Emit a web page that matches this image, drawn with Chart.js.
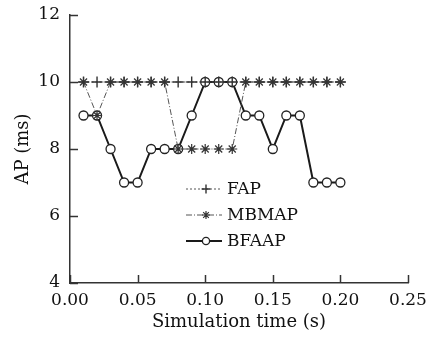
<!DOCTYPE html>
<html><head><meta charset="utf-8">
<script src="https://cdn.jsdelivr.net/npm/chart.js@4/dist/chart.umd.min.js"></script>
<style>html,body{margin:0;padding:0;background:#fff}#wrap{width:433px;height:337px}</style>
</head><body><div id="wrap"><canvas id="c" width="433" height="337"></canvas></div>
<script>
const times = [0.01,0.02,0.03,0.04,0.05,0.06,0.07,0.08,0.09,0.10,0.11,0.12,0.13,0.14,0.15,0.16,0.17,0.18,0.19,0.20];
const fap   = [10,10,10,10,10,10,10,10,10,10,10,10,10,10,10,10,10,10,10,10];
const mbmap = [10,9,10,10,10,10,10,8,8,8,8,8,10,10,10,10,10,10,10,10];
const bfaap = [9,9,8,7,7,8,8,8,9,10,10,10,9,9,8,9,9,7,7,7];
const xTicks = [0,0.05,0.10,0.15,0.20,0.25];
const yTicks = [4,6,8,10,12];
const seriesNames = ['FAP','MBMAP','BFAAP'];

const FONT = 'DejaVu Serif';
const TXT = '#111';
const toXY = arr => arr.map((v,i)=>({x:times[i],y:v}));

const inwardTicks = {
  id:'inwardTicks',
  afterDraw(chart){
    const ctx = chart.ctx, xs = chart.scales.x, ys = chart.scales.y, a = chart.chartArea;
    ctx.save();
    ctx.strokeStyle = '#333'; ctx.lineWidth = 1.5;
    xTicks.forEach(t=>{const px = Math.round(xs.getPixelForValue(t))+0.5; ctx.beginPath(); ctx.moveTo(px,a.bottom); ctx.lineTo(px,a.bottom-8); ctx.stroke();});
    yTicks.forEach(t=>{const py = Math.round(ys.getPixelForValue(t))+0.5; ctx.beginPath(); ctx.moveTo(a.left,py); ctx.lineTo(a.left+8,py); ctx.stroke();});
    ctx.restore();
  }
};

const insideLegend = {
  id:'insideLegend',
  afterDatasetsDraw(chart){
    const ctx = chart.ctx, a = chart.chartArea;
    const x0 = a.left + 116, y0 = a.top + 174, gap = 26, len = 36;
    chart.data.datasets.forEach((ds,i)=>{
      const y = y0 + i*gap;
      ctx.save();
      ctx.strokeStyle = ds.borderColor; ctx.lineWidth = ds.borderWidth;
      ctx.setLineDash(ds.borderDash || []);
      ctx.beginPath(); ctx.moveTo(x0,y); ctx.lineTo(x0+len,y); ctx.stroke();
      ctx.setLineDash([]);
      ctx.fillStyle = ds.pointBackgroundColor; ctx.strokeStyle = ds.pointBorderColor; ctx.lineWidth = ds.pointBorderWidth;
      Chart.helpers.drawPoint(ctx, {pointStyle: ds.pointStyle, radius: ds.pointRadius*0.8, borderWidth: ds.pointBorderWidth, rotation:0}, x0+len/2+2, y);
      ctx.fillStyle = TXT; ctx.font = '17px "' + FONT + '"'; ctx.textBaseline = 'middle'; ctx.textAlign = 'left';
      ctx.fillText(seriesNames[i], x0+len+5, y+1);
      ctx.restore();
    });
  }
};

new Chart(document.getElementById('c'), {
  type:'line',
  data:{datasets:[
    {label:seriesNames[0], data:toXY(fap), borderColor:'#555', borderWidth:1, borderDash:[2,2],
     pointStyle:'cross', pointRadius:5.5, pointBorderWidth:1.4, pointBorderColor:'#333', pointBackgroundColor:'#333'},
    {label:seriesNames[1], data:toXY(mbmap), borderColor:'#555', borderWidth:1, borderDash:[6,2,1,2],
     pointStyle:'star', pointRadius:5, pointBorderWidth:1.2, pointBorderColor:'#333', pointBackgroundColor:'#333'},
    {label:seriesNames[2], data:toXY(bfaap), borderColor:'#1a1a1a', borderWidth:2,
     pointStyle:'circle', pointRadius:4.5, pointBorderWidth:1.3, pointBorderColor:'#222', pointBackgroundColor:'#fff'}
  ]},
  options:{
    responsive:false, animation:false, devicePixelRatio:1,
    layout:{padding:{top:15,right:25,bottom:0,left:0}},
    plugins:{legend:{display:false}, tooltip:{enabled:false}},
    scales:{
      x:{type:'linear', min:0, max:0.25,
         afterBuildTicks(s){s.ticks = xTicks.map(v=>({value:v}));},
         afterFit(s){s.height = 54; s.paddingLeft = 0; s.paddingRight = 0;},
         grid:{display:false, drawTicks:false},
         border:{display:true, color:'#333', width:1.5},
         ticks:{padding:7, color:TXT, font:{family:FONT, size:17}, callback:v=>Number(v).toFixed(2), maxRotation:0},
         title:{display:true, text:'Simulation time (s)', color:TXT, font:{family:FONT, size:18}, padding:{top:0,bottom:4}}},
      y:{type:'linear', min:4, max:12,
         afterBuildTicks(s){s.ticks = yTicks.map(v=>({value:v}));},
         afterFit(s){s.width = 70; s.paddingTop = 0; s.paddingBottom = 0;},
         grid:{display:false, drawTicks:false},
         border:{display:true, color:'#333', width:1.5},
         ticks:{padding:10, color:TXT, font:{family:FONT, size:17}},
         title:{display:true, text:'AP (ms)', color:TXT, font:{family:FONT, size:18}, padding:{top:13,bottom:0}}}
    }
  },
  plugins:[inwardTicks, insideLegend]
});
</script></body></html>
